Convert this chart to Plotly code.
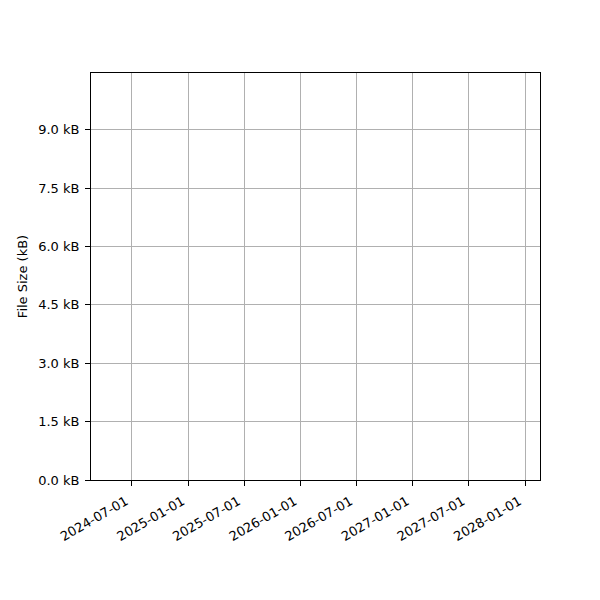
import plotly.graph_objects as go

# series data (the reference plot holds no points)
dates = []
sizes_kb = []

# axis ticks
x_ticks = ['2024-07-01', '2025-01-01', '2025-07-01', '2026-01-01',
           '2026-07-01', '2027-01-01', '2027-07-01', '2028-01-01']
y_ticks = [0.0, 1.5, 3.0, 4.5, 6.0, 7.5, 9.0]
y_labels = [f'{v:.1f} kB' for v in y_ticks]

fig = go.Figure()
fig.add_trace(go.Scatter(x=dates, y=sizes_kb, mode='lines',
                         line=dict(color='#1f77b4'), showlegend=False))

axis_common = dict(showline=True, linecolor='black', linewidth=1, mirror=True,
                   ticks='outside', ticklen=5, tickcolor='black',
                   showgrid=True, gridcolor='#b0b0b0', gridwidth=1,
                   zeroline=False, tickfont=dict(size=13, color='black'),
                   ticklabelstandoff=3)

# page body adds an 8px offset, so margins are shifted to compensate
fig.update_layout(
    width=600, height=600,
    margin=dict(l=83, r=68, t=65, b=128),
    paper_bgcolor='white', plot_bgcolor='white',
    font=dict(family='DejaVu Sans', size=13, color='black'),
    xaxis=dict(type='date', range=['2024-02-19', '2028-02-18'],
               tickvals=x_ticks, ticktext=x_ticks, tickangle=-30,
               ticklabelshift=-6, **axis_common),
    yaxis=dict(range=[0, 10.46], tickvals=y_ticks, ticktext=y_labels,
               title=dict(text='File Size (kB)', font=dict(size=13), standoff=7),
               **axis_common),
)

fig.write_html("out.html")
